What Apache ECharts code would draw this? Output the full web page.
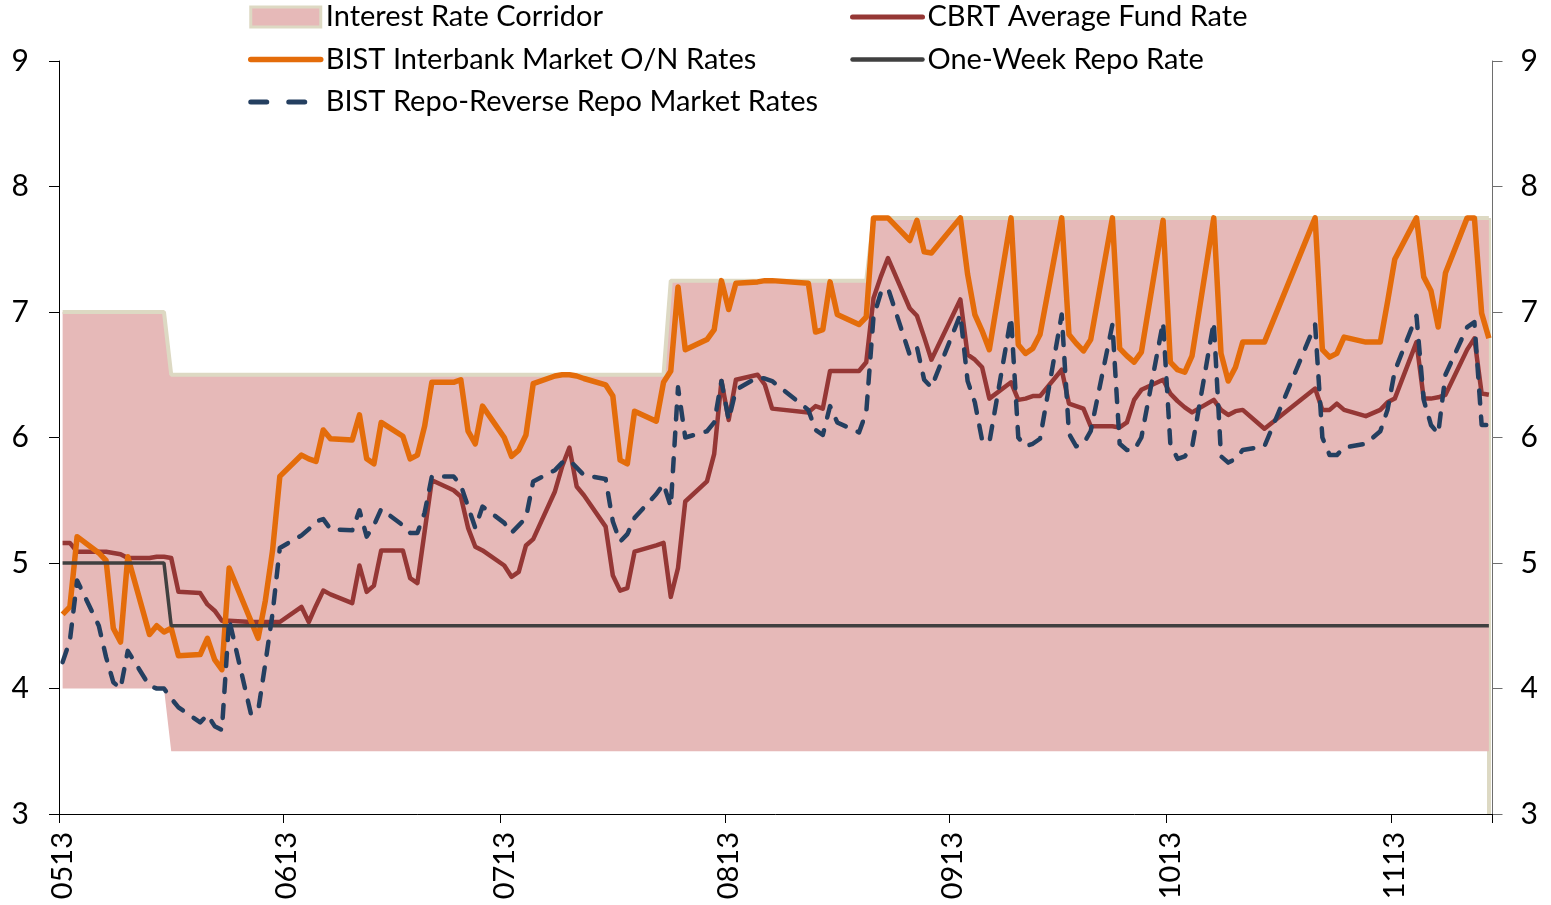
<!DOCTYPE html>
<html>
<head>
<meta charset="utf-8">
<script src="https://cdn.jsdelivr.net/npm/echarts@6/dist/echarts.min.js"></script>
<style>
html,body{margin:0;padding:0;background:#ffffff;}
#chart{width:1551px;height:905px;}
</style>
</head>
<body>
<div id="chart"></div>
<script>
// ---------- data ----------
const YEAR = 2013;
const firstDay = [YEAR, 5, 1];    // axis starts 1 May
const lastDay = [YEAR, 11, 14];   // axis ends 14 Nov
const tickLabels = ['0513', '0613', '0713', '0813', '0913', '1013', '1113'];
const yMin = 3, yMax = 9, yStep = 1;

const dates = [
  '05-01','05-02','05-03',
  '05-06','05-07','05-08','05-09','05-10',
  '05-13','05-14','05-15','05-16','05-17',
  '05-20','05-21','05-22','05-23','05-24',
  '05-27','05-28','05-29','05-30','05-31',
  '06-03','06-04','06-05','06-06','06-07',
  '06-10','06-11','06-12','06-13','06-14',
  '06-17','06-18','06-19','06-20','06-21',
  '06-24','06-25','06-26','06-27','06-28',
  '07-01','07-02','07-03','07-04','07-05',
  '07-08','07-09','07-10','07-11','07-12',
  '07-15','07-16','07-17','07-18','07-19',
  '07-22','07-23','07-24','07-25','07-26',
  '07-29','07-30','07-31','08-01','08-02',
  '08-05','08-06','08-07',
  '08-12','08-13','08-14','08-15','08-16',
  '08-19','08-20','08-21','08-22','08-23',
  '08-26','08-27','08-28','08-29',
  '09-02','09-03','09-04','09-05','09-06',
  '09-09','09-10','09-11','09-12','09-13',
  '09-16','09-17','09-18','09-19','09-20',
  '09-23','09-24','09-25','09-26','09-27',
  '09-30','10-01','10-02','10-03','10-04',
  '10-07','10-08','10-09','10-10','10-11',
  '10-14',
  '10-21','10-22','10-23','10-24','10-25',
  '10-28','10-30','10-31','11-01',
  '11-04','11-05','11-06','11-07','11-08',
  '11-11','11-12','11-13','11-14'
];

const bistON = [
  4.59,4.65,5.21,
  5.08,5.02,4.48,4.37,5.05,
  4.43,4.50,4.45,4.48,4.26,
  4.27,4.40,4.23,4.15,4.96,
  4.54,4.40,4.70,5.10,5.69,
  5.86,5.83,5.81,6.06,5.99,
  5.98,6.18,5.83,5.79,6.12,
  6.01,5.83,5.86,6.09,6.44,
  6.44,6.46,6.05,5.95,6.25,
  6.00,5.85,5.90,6.02,6.43,
  6.49,6.50,6.50,6.49,6.47,
  6.42,6.33,5.82,5.79,6.21,
  6.13,6.44,6.53,7.20,6.70,
  6.78,6.86,7.25,7.02,7.23,
  7.24,7.25,7.25,
  7.23,6.84,6.86,7.24,6.98,
  6.90,6.96,7.75,7.75,7.75,
  7.57,7.73,7.48,7.47,
  7.75,7.30,6.98,6.85,6.70,
  7.75,6.74,6.67,6.71,6.82,
  7.75,6.82,6.75,6.69,6.78,
  7.75,6.71,6.65,6.60,6.68,
  7.73,6.60,6.54,6.52,6.65,
  7.75,6.67,6.45,6.56,6.76,
  6.76,
  7.75,6.70,6.64,6.67,6.80,
  6.76,6.76,7.08,7.42,
  7.75,7.28,7.17,6.88,7.31,
  7.75,7.75,6.99,6.79
];

const cbrtAvg = [
  5.16,5.16,5.09,
  5.09,5.09,5.08,5.07,5.04,
  5.04,5.05,5.05,5.04,4.77,
  4.76,4.67,4.62,4.54,4.54,
  4.53,4.53,4.53,4.53,4.53,
  4.65,4.53,4.66,4.78,4.75,
  4.68,4.98,4.77,4.82,5.10,
  5.10,4.88,4.84,5.25,5.66,
  5.58,5.53,5.28,5.13,5.10,
  4.98,4.89,4.93,5.14,5.19,
  5.57,5.77,5.92,5.61,5.54,
  5.29,4.90,4.78,4.80,5.09,
  5.14,5.16,4.73,4.96,5.49,
  5.65,5.87,6.45,6.14,6.46,
  6.50,6.42,6.23,
  6.20,6.25,6.23,6.53,6.53,
  6.53,6.60,7.11,7.28,7.43,
  7.03,6.97,6.80,6.62,
  7.10,6.66,6.62,6.56,6.31,
  6.44,6.30,6.31,6.33,6.33,
  6.54,6.27,6.25,6.23,6.09,
  6.09,6.08,6.12,6.30,6.38,
  6.46,6.35,6.29,6.24,6.20,
  6.30,6.22,6.18,6.21,6.22,
  6.07,
  6.39,6.22,6.22,6.27,6.22,
  6.17,6.22,6.28,6.31,
  6.76,6.31,6.31,6.32,6.34,
  6.70,6.79,6.35,6.34
];

const bistRepo = [
  4.21,4.38,4.86,
  4.50,4.25,4.05,4.00,4.30,
  4.02,4.00,4.00,3.92,3.85,
  3.73,3.79,3.70,3.67,4.55,
  3.80,3.82,4.20,4.60,5.12,
  5.22,5.27,5.33,5.35,5.27,
  5.26,5.42,5.21,5.30,5.43,
  5.30,5.24,5.24,5.40,5.69,
  5.69,5.62,5.45,5.28,5.45,
  5.32,5.24,5.30,5.36,5.65,
  5.74,5.80,5.82,5.76,5.70,
  5.67,5.33,5.17,5.23,5.36,
  5.55,5.63,5.45,6.40,6.00,
  6.05,6.12,6.45,6.14,6.38,
  6.48,6.47,6.45,
  6.22,6.06,6.02,6.25,6.12,
  6.04,6.20,6.96,7.15,7.19,
  6.66,6.72,6.46,6.40,
  6.98,6.45,6.28,5.98,5.96,
  6.96,6.00,5.93,5.95,5.99,
  6.98,6.03,5.93,5.95,6.05,
  6.90,5.95,5.90,5.90,6.00,
  6.92,5.95,5.83,5.85,5.92,
  6.92,5.85,5.80,5.83,5.90,
  5.93,
  6.90,6.00,5.86,5.86,5.92,
  5.95,6.05,6.22,6.53,
  6.97,6.30,6.10,6.03,6.50,
  6.88,6.92,6.10,6.10
];

// policy rates (step changes)
const corridorDates = ['05-01','05-15','05-16','07-23','07-24','08-20','08-21','11-14'];
const corridorUpper = [7, 7, 6.5, 6.5, 7.25, 7.25, 7.75, 7.75];
const corridorLower = [4, 4, 3.5, 3.5, 3.5, 3.5, 3.5, 3.5];
const repoDates = ['05-01','05-15','05-16','11-14'];
const oneWeekRepo = [5, 5, 4.5, 4.5];

// ---------- categories: every calendar day ----------
const pad = n => String(n).padStart(2, '0');
const categories = [];
for (let t = Date.UTC(firstDay[0], firstDay[1]-1, firstDay[2]);
     t <= Date.UTC(lastDay[0], lastDay[1]-1, lastDay[2]); t += 86400000) {
  const d = new Date(t);
  categories.push(pad(d.getUTCMonth()+1) + '-' + pad(d.getUTCDate()));
}
const yy = String(YEAR).slice(2);
const catLabel = v => v.slice(0,2) + yy;
const isTick = (i, v) => v.slice(3) === '01' && tickLabels.includes(catLabel(v));

const zip = (ds, arr) => ds.map((d, i) => [d, arr[i]]);
const corridorBand = corridorUpper.map((u, i) => u - corridorLower[i]);

const FONT = 'Lato';
const lastCorrDate = corridorDates[corridorDates.length-1];
const lastCorrTop = corridorUpper[corridorUpper.length-1];

const C_PINK = '#E6B9B8', C_BEIGE = '#DDD9C3', C_RED = '#953735',
      C_ORANGE = '#E46C0A', C_GRAY = '#404040', C_BLUE = '#243F60';
const DASH = [13, 13];

const legendText = {fontFamily: FONT, fontSize: 29, color: '#000', lineHeight: 30};
const lineItem = (name, color, width, type) => ({
  name, itemStyle: {opacity: 0},
  lineStyle: {color, width, type: type || 'solid', cap: 'round', opacity: 1}
});

const chart = echarts.init(document.getElementById('chart'), null, {renderer:'canvas'});
chart.setOption({
  animation: false,
  backgroundColor: '#ffffff',
  grid: {left: 59, right: 58.5, top: 61, bottom: 91, outerBoundsMode: 'none', containLabel: false},
  legend: [
    {
      left: 248, top: 2, orient: 'vertical', padding: 0, itemWidth: 70, itemHeight: 20, itemGap: 12.5,
      selectedMode: false, textStyle: legendText,
      data: [
        {name: 'Interest Rate Corridor', icon: 'rect',
         itemStyle: {color: C_PINK, borderColor: C_BEIGE, borderWidth: 3}},
        lineItem('BIST Interbank Market O/N Rates', C_ORANGE, 5.5),
        lineItem('BIST Repo-Reverse Repo Market Rates', C_BLUE, 5, [16, 22])
      ]
    },
    {
      left: 850, top: 2, orient: 'vertical', padding: 0, itemWidth: 70, itemHeight: 20, itemGap: 12.5,
      selectedMode: false, textStyle: legendText,
      data: [
        lineItem('CBRT Average Fund Rate', C_RED, 5),
        lineItem('One-Week Repo Rate', C_GRAY, 4.5)
      ]
    }
  ],
  xAxis: {
    type: 'category', data: categories, boundaryGap: true, z: 5,
    axisLine: {lineStyle: {color: '#000', width: 1}},
    axisTick: {show: true, interval: isTick, length: 9, lineStyle: {color: '#000'}},
    axisLabel: {interval: isTick, rotate: 90, margin: 18, formatter: catLabel,
                fontFamily: FONT, fontSize: 29, color: '#000'},
    splitLine: {show: false}
  },
  yAxis: [
    {
      type: 'value', position: 'left', min: yMin, max: yMax, interval: yStep, z: 5,
      axisLine: {show: true, lineStyle: {color: '#000', width: 1}},
      axisTick: {show: true, length: 10, lineStyle: {color: '#000'}},
      axisLabel: {fontFamily: FONT, fontSize: 30, color: '#000', margin: 30},
      splitLine: {show: false}
    },
    {
      type: 'value', position: 'right', min: yMin, max: yMax, interval: yStep, z: 5,
      axisLine: {show: true, lineStyle: {color: '#6e6e6e', width: 1}},
      axisTick: {show: true, length: 10, lineStyle: {color: '#6e6e6e'}},
      axisLabel: {fontFamily: FONT, fontSize: 30, color: '#000', margin: 28},
      splitLine: {show: false}
    }
  ],
  series: [
    {
      name: 'Corridor lower bound', type: 'line', stack: 'corridor',
      data: zip(corridorDates, corridorLower), symbol: 'none', silent: true,
      lineStyle: {width: 0, opacity: 0}, itemStyle: {color: C_PINK},
      markLine: {
        silent: true, symbol: 'none', animation: false, z: 3,
        label: {show: false},
        lineStyle: {color: C_BEIGE, width: 4, type: 'solid'},
        data: [[{coord: [lastCorrDate, yMin]}, {coord: [lastCorrDate, lastCorrTop]}]]
      }
    },
    {
      name: 'Interest Rate Corridor', type: 'line', stack: 'corridor',
      data: zip(corridorDates, corridorBand), symbol: 'none', silent: true,
      lineStyle: {color: C_BEIGE, width: 4},
      itemStyle: {color: C_PINK},
      areaStyle: {color: C_PINK, opacity: 1}
    },
    {
      name: 'CBRT Average Fund Rate', type: 'line', data: zip(dates, cbrtAvg), symbol: 'none',
      lineStyle: {color: C_RED, width: 4.5, join: 'round'},
      itemStyle: {color: C_RED}
    },
    {
      name: 'BIST Interbank Market O/N Rates', type: 'line', data: zip(dates, bistON), symbol: 'none',
      lineStyle: {color: C_ORANGE, width: 5.5, join: 'round'},
      itemStyle: {color: C_ORANGE}
    },
    {
      name: 'One-Week Repo Rate', type: 'line', data: zip(repoDates, oneWeekRepo), symbol: 'none',
      lineStyle: {color: C_GRAY, width: 3.5},
      itemStyle: {color: C_GRAY}
    },
    {
      name: 'BIST Repo-Reverse Repo Market Rates', type: 'line', data: zip(dates, bistRepo), symbol: 'none',
      lineStyle: {color: C_BLUE, width: 4.5, type: DASH, cap: 'round', join: 'round'},
      itemStyle: {color: C_BLUE}
    }
  ]
});
</script>
</body>
</html>
